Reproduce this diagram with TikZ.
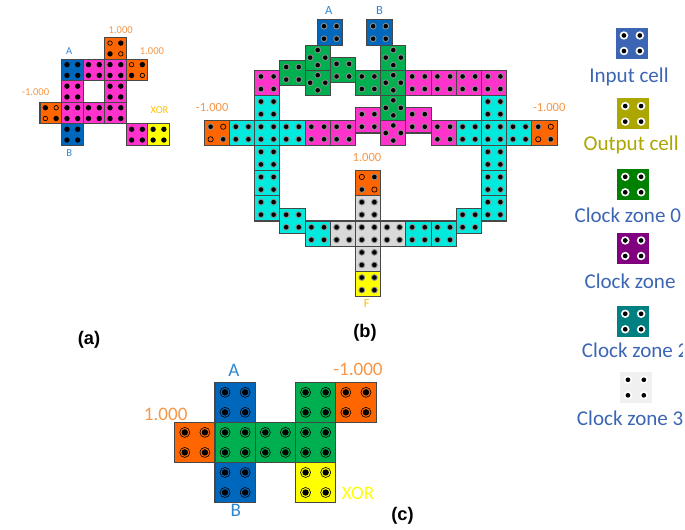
\documentclass[tikz,border=0pt]{standalone}
\usepackage{fontspec}
\setmainfont{Carlito}
\newfontfamily\capfont{Liberation Sans}
\definecolor{cinput}{HTML}{0068BC}
\definecolor{cmag}{HTML}{FF33CC}
\definecolor{corange}{HTML}{FF6600}
\definecolor{cyellow}{HTML}{FFFF00}
\definecolor{cgreen}{HTML}{00B050}
\definecolor{ccyan}{HTML}{00EBDD}
\definecolor{cgray}{HTML}{D9D9D9}
\definecolor{labblue}{HTML}{2E86CF}
\definecolor{laborange}{HTML}{F79646}
\definecolor{labgold}{HTML}{FFC000}
\definecolor{leginput}{HTML}{3C66B4}
\definecolor{legoutput}{HTML}{ABA600}
\definecolor{legzero}{HTML}{008000}
\definecolor{legone}{HTML}{800080}
\definecolor{legtwo}{HTML}{008080}
\definecolor{legthree}{HTML}{F0F0F0}
\tikzset{%
    qbox/.style={draw=black!72, line width=0.8pt},
    qhalo/.style={},
    qopen/.style={draw=black, line width=0.5pt},
    lab/.style={inner sep=0pt, anchor=base},
    leg/.style={inner sep=0pt, anchor=base west, font=\fontsize{15.8}{18}\selectfont, text=leginput},
    captext/.style={inner sep=0pt, anchor=base, font=\capfont\bfseries\fontsize{13.7}{16}\selectfont},
    laba/.style={lab, font=\fontsize{7.9}{9}\selectfont},
    labb/.style={lab, font=\fontsize{9.4}{11}\selectfont},
    labc/.style={lab, font=\fontsize{14.3}{17}\selectfont}
}
% dot positions inside a cell
\def\qsquare{.25/.25,.75/.25,.25/.75,.75/.75}
\def\qdiamond{.5/.2,.2/.5,.8/.5,.5/.8}
\def\qdiag{.25/.25,.75/.75}
\def\qanti{.75/.25,.25/.75}
\newcommand{\qcell}[4]{%
  \draw[qbox,fill=#3] (#1,#2) rectangle ++(1,1);
  \foreach \dx/\dy in #4 {
    \path[qhalo] (#1+\dx,#2+\dy) circle[radius=\halor];
    \fill (#1+\dx,#2+\dy) circle[radius=\dotr];
  }
}
\newcommand{\qfixed}[4]{%
  \qcell{#1}{#2}{corange}{#3}
  \foreach \dx/\dy in #4 {
    \draw[qopen] (#1+\dx,#2+\dy) circle[radius=.105];
  }
}
\begin{document}
\begin{tikzpicture}[x=0.75pt,y=-0.75pt]
  \useasboundingbox (0,0) rectangle (685,529);

  % (a)
  \begin{scope}[shift={(40,37.7)},x=16.16pt,y=-16.16pt]
    \def\dotr{.125}\def\halor{.125}
    \foreach \col/\row/\clr in {1/1/cinput,2/1/cmag,3/1/cmag,1/2/cmag,3/2/cmag,1/3/cmag,2/3/cmag,3/3/cmag,1/4/cinput,4/4/cmag,5/4/cyellow}
      \qcell{\col}{\row}{\clr}{\qsquare};
    \qfixed{3}{0}{\qanti}{\qdiag}
    \qfixed{4}{1}{\qanti}{\qdiag}
    \qfixed{0}{3}{\qdiag}{\qanti}
  \end{scope}
  \node[laba,text=laborange] (aone) at (120.7,33) {1.000};
  \node[laba,text=laborange] (atwo) at (152,54.7) {1.000};
  \node[laba,text=laborange] (aneg) at (35.5,95) {-1.000};
  \node[laba,text=labblue] (aA) at (69.2,54.3) {A};
  \node[laba,text=labblue] (aB) at (69.2,156) {B};
  \node[laba,text=labgold] (axor) at (159.5,113.3) {XOR};
  \node[captext] (capa) at (89,344) {(a)};

  % (b)
  \begin{scope}[shift={(204.3,19.9)},x=18.9pt,y=-18.85pt,qhalo/.style={fill=black!45}]
    \def\dotr{.09}\def\halor{.135}
    \foreach \col/\row/\clr in {4.5/0/cinput,6.45/0/cinput,3/1.625/cgreen,5/1.5/cgreen,6/2/cgreen,
        2/2/cmag,8/2/cmag,9/2/cmag,10/2/cmag,11/2/cmag,
        2/3/ccyan,2/4/ccyan,2/5/ccyan,2/6/ccyan,2/7/ccyan,1/4/ccyan,3/4/ccyan,
        11/3/ccyan,11/4/ccyan,11/5/ccyan,11/6/ccyan,11/7/ccyan,10/4/ccyan,12/4/ccyan,
        4/4/cmag,5/4/cmag,6/3.5/cmag,8/3.5/cmag,9/4/cmag,
        3/7.5/ccyan,4/8/ccyan,8/8/ccyan,9/8/ccyan,10/7.5/ccyan,
        5/8/cgray,6/8/cgray,7/8/cgray,6/7/cgray,6/9/cgray,6/10/cyellow}
      \qcell{\col}{\row}{\clr}{\qsquare};
    \foreach \col/\row/\clr in {4/1/cgreen,4/2/cgreen,7/1/cgreen,7/2/cgreen,7/3/cgreen,7/4/cmag}
      \qcell{\col}{\row}{\clr}{\qdiamond};
    \qfixed{0}{4}{\qdiag}{\qanti}
    \qfixed{13}{4}{\qdiag}{\qanti}
    \qfixed{6}{6}{\qanti}{\qdiag}
  \end{scope}
  \node[labb,text=labblue] (bA) at (328.7,14) {A};
  \node[labb,text=labblue] (bB) at (379.5,14) {B};
  \node[labb,text=laborange] (bnegl) at (212.2,111.7) {-1.000};
  \node[labb,text=laborange] (bnegr) at (549.2,111.7) {-1.000};
  \node[labb,text=laborange] (bone) at (367,161.7) {1.000};
  \node[labb,text=labgold] (bF) at (366.8,307.7) {F};
  \node[captext] (capb) at (365,337) {(b)};

  % (c)
  \begin{scope}[shift={(174.7,382.3)},x=30.2pt,y=-30.05pt,qhalo/.style={draw=black,line width=0.45pt}]
    \def\dotr{.08}\def\halor{.125}
    \foreach \col/\row/\clr in {1/0/cinput,3/0/cgreen,1/1/cgreen,2/1/cgreen,3/1/cgreen,1/2/cinput,3/2/cyellow,4/0/corange,0/1/corange}
      \qcell{\col}{\row}{\clr}{\qsquare};
  \end{scope}
  \node[labc,text=labblue] (cA) at (233.8,376.7) {A};
  \node[labc,text=labblue] (cB) at (235.8,516) {B};
  \node[labc,text=laborange] (cneg) at (358,375) {-1.000};
  \node[labc,text=laborange] (cone) at (165.7,420) {1.000};
  \node[labc,text=cyellow] (cxor) at (358,499.3) {XOR};
  \node[captext] (capc) at (402.5,520) {(c)};

  % legend
  \foreach \xx/\yy/\clr in {616/27.7/leginput,617.3/98.3/legoutput,617.3/169/legzero,617.3/232.7/legone,617.3/306/legtwo,620/372/legthree} {
    \begin{scope}[shift={(\xx,\yy)},x=23.8pt,y=-23.3pt,qbox/.style={draw=none},qhalo/.style={fill=white}]
      \def\dotr{.075}\def\halor{.135}
      \qcell{0}{0}{\clr}{\qsquare}
    \end{scope}
  }
  \begin{scope}
    \clip (560,0) rectangle (682,529);
    \node[leg] (leginp) at (589,82.3) {Input cell};
    \node[leg,text=legoutput] (legout) at (583.3,150) {Output cell};
    \node[leg] (legz) at (574.3,222.3) {Clock zone 0};
    \node[leg] (lego) at (584.3,288.3) {Clock zone};
    \node[leg] (legt) at (581.7,357) {Clock zone 2};
    \node[leg] (legth) at (576.7,425.7) {Clock zone 3};
  \end{scope}
\end{tikzpicture}
\end{document}
